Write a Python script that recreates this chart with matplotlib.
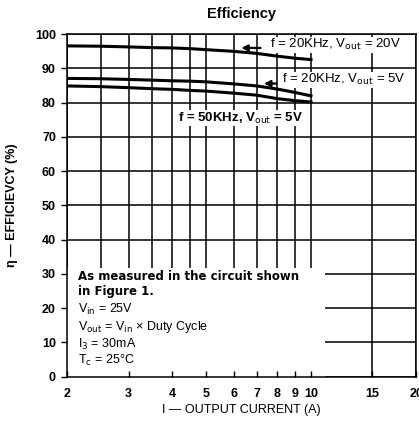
import matplotlib
matplotlib.use("Agg")
import matplotlib.pyplot as plt
from matplotlib.patches import Rectangle

plt.rcParams['font.family'] = ['Liberation Sans', 'DejaVu Sans']

# Data
current = [2, 2.5, 3, 3.5, 4, 4.5, 5, 6, 7, 8, 9, 10]
eff_20k_20v = [96.6, 96.5, 96.3, 96.1, 96.0, 95.8, 95.5, 95.0, 94.4, 93.6, 93.0, 92.6]
eff_20k_5v = [87.1, 87.0, 86.8, 86.6, 86.4, 86.3, 86.1, 85.5, 84.9, 84.0, 83.0, 82.0]
eff_50k_5v = [84.9, 84.7, 84.4, 84.1, 83.9, 83.6, 83.4, 82.8, 82.2, 81.2, 80.6, 80.2]

x_ticks = [2, 3, 4, 5, 6, 7, 8, 9, 10, 15, 20]
x_tick_labels = ["2", "3", "4", "5", "6", "7", "8", "9", "10", "15", "20"]
x_minor_grid = [2.5, 3.5, 4.5]
y_ticks = [0, 10, 20, 30, 40, 50, 60, 70, 80, 90, 100]

fig = plt.figure(figsize=(4.19, 4.28), dpi=100)
ax = fig.add_axes([0.160, 0.120, 0.833, 0.800])
ax.set_xscale('log')
ax.set_xlim(2, 20)
ax.set_ylim(0, 100)

# grid drawn manually (below the text box)
for xv in x_ticks + x_minor_grid:
    ax.axvline(xv, color='black', lw=1.1, zorder=1)
for yv in y_ticks:
    ax.axhline(yv, color='black', lw=1.1, zorder=1)

ax.set_xticks(x_ticks)
ax.set_xticklabels(x_tick_labels, fontsize=9, fontweight='bold')
ax.xaxis.set_minor_locator(matplotlib.ticker.NullLocator())
ax.set_yticks(y_ticks)
ax.set_yticklabels([str(v) for v in y_ticks], fontsize=9, fontweight='bold')
ax.tick_params(axis='x', direction='in', length=4, width=1, pad=8)
ax.tick_params(axis='y', direction='out', length=4, width=1, pad=4)
for s in ax.spines.values():
    s.set_linewidth(1.1)

lw = 2.2
ax.plot(current, eff_20k_20v, color='black', lw=lw, zorder=3)
ax.plot(current, eff_20k_5v, color='black', lw=lw, zorder=3)
ax.plot(current, eff_50k_5v, color='black', lw=lw, zorder=3)

# curve labels (white background hides grid, sits below curves)
bb = dict(facecolor='white', edgecolor='none', pad=0.5)
ax.text(7.64, 96.9, r"f = 20KHz, V$_{\mathrm{out}}$ = 20V", ha='left', va='center',
        fontsize=9.5, bbox=bb, zorder=2)
ax.text(8.26, 86.7, r"f = 20KHz, V$_{\mathrm{out}}$ = 5V", ha='left', va='center',
        fontsize=9.5, bbox=bb, zorder=2)
ax.text(4.16, 75.5, r"f = 50KHz, V$_{\mathrm{out}}$ = 5V", ha='left', va='center',
        fontsize=9.5, fontweight='bold', bbox=bb, zorder=2)

# leader arrows
ax.annotate("", xy=(6.2, 96.0), xytext=(7.3, 96.0),
            arrowprops=dict(arrowstyle='-|>', color='black', lw=1.6,
                            mutation_scale=9), zorder=4)
ax.annotate("", xy=(7.2, 85.6), xytext=(8.1, 85.6),
            arrowprops=dict(arrowstyle='-|>', color='black', lw=1.6,
                            mutation_scale=9), zorder=4)

# white text box covering the grid
ax.add_patch(Rectangle((0, 0), 0.74, 0.318, transform=ax.transAxes,
                       facecolor='white', edgecolor='none', zorder=1.5))
notes_x = 0.030
ax.text(notes_x, 0.292, "As measured in the circuit shown", transform=ax.transAxes,
        fontsize=8.5, fontweight='bold', family='DejaVu Sans', va='center', ha='left',
        zorder=4, bbox=dict(facecolor='white', edgecolor='none', pad=1))
ax.text(notes_x, 0.248, "in Figure 1.", transform=ax.transAxes,
        fontsize=8.5, fontweight='bold', family='DejaVu Sans', va='center', ha='left',
        zorder=4)
ax.text(notes_x, 0.197, r"V$_{\mathrm{in}}$ = 25V", transform=ax.transAxes,
        fontsize=9, va='center', ha='left', zorder=4)
ax.text(notes_x, 0.145, r"V$_{\mathrm{out}}$ = V$_{\mathrm{in}}$ × Duty Cycle",
        transform=ax.transAxes, fontsize=9, va='center', ha='left', zorder=4)
ax.text(notes_x, 0.095, r"I$_{3}$ = 30mA", transform=ax.transAxes,
        fontsize=9, va='center', ha='left', zorder=4)
ax.text(notes_x, 0.048, r"T$_{\mathrm{c}}$ = 25°C", transform=ax.transAxes,
        fontsize=9, va='center', ha='left', zorder=4)

ax.set_title("Efficiency", fontsize=10.5, fontweight='bold', pad=12)
ax.set_ylabel("η — EFFICIEVCY (%)", fontsize=9, fontweight='bold', labelpad=12)
ax.set_xlabel("I — OUTPUT CURRENT (A)", fontsize=9, labelpad=3)

fig.savefig("out.png", dpi=100)
